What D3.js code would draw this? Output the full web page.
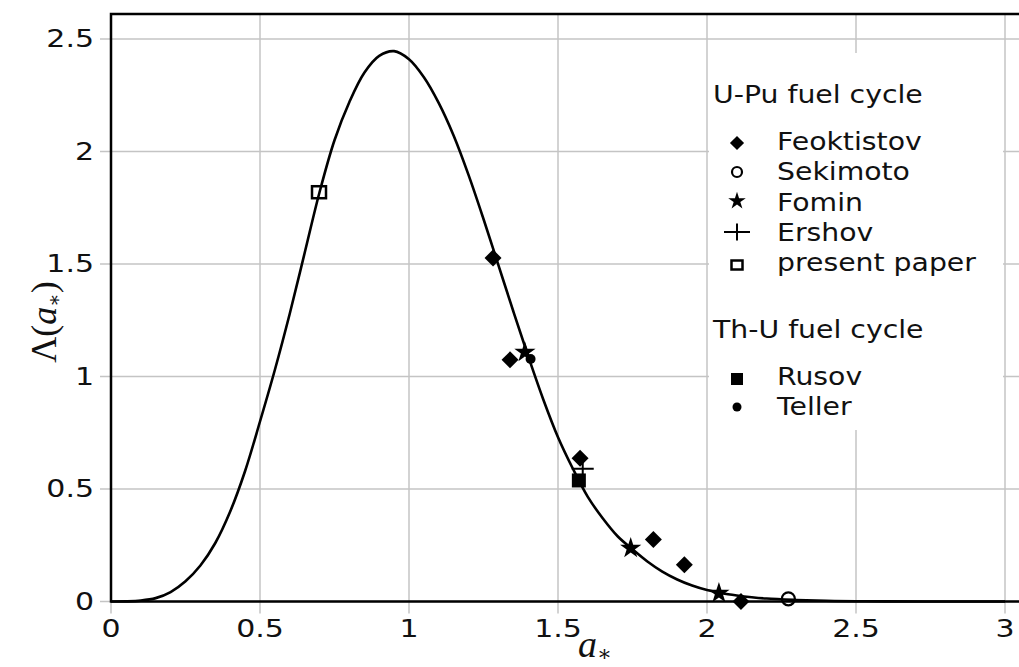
<!DOCTYPE html>
<html><head><meta charset="utf-8">
<script src="https://cdn.jsdelivr.net/npm/d3@7"></script>
<style>body{margin:0;background:#fff}</style></head>
<body><svg id="c" width="1019" height="667"></svg>
<script>
// ---------- data ----------
const xTicks = [0, 0.5, 1, 1.5, 2, 2.5, 3];
const xTickLabels = ["0", "0.5", "1", "1.5", "2", "2.5", "3"];
const yTicks = [0, 0.5, 1, 1.5, 2, 2.5];
const yTickLabels = ["0", "0.5", "1", "1.5", "2", "2.5"];

// theoretical curve, values
const curveA = [0, 0.05, 0.10, 0.15, 0.20, 0.25, 0.30, 0.35, 0.40, 0.45, 0.50, 0.55, 0.60, 0.65, 0.70, 0.75, 0.80, 0.85, 0.90, 0.95,
                1.00, 1.05, 1.10, 1.15, 1.20, 1.25, 1.30, 1.35, 1.40, 1.45, 1.50, 1.55, 1.60, 1.65, 1.70, 1.75, 1.80, 1.85, 1.90, 1.95,
                2.00, 2.05, 2.10, 2.15, 2.20, 2.30, 2.40, 2.50, 2.60, 2.80, 3.00];
const curveL = [0, 0.0005, 0.004, 0.015, 0.042, 0.09, 0.16, 0.26, 0.40, 0.58, 0.80, 1.03, 1.28, 1.55, 1.82, 2.05, 2.22, 2.35, 2.425, 2.446,
                2.41, 2.33, 2.215, 2.07, 1.895, 1.70, 1.495, 1.29, 1.09, 0.90, 0.73, 0.59, 0.465, 0.37, 0.29, 0.232, 0.178, 0.133, 0.098, 0.071,
                0.051, 0.037, 0.027, 0.019, 0.013, 0.007, 0.003, 0.0012, 0.0004, 0, 0];

const feoktistovA = [1.282, 1.339, 1.574, 1.82, 1.924, 2.114];
const feoktistovL = [1.527, 1.074, 0.637, 0.276, 0.163, 0.0];
const sekimotoA = [2.273];
const sekimotoL = [0.012];
const fominA = [1.389, 1.744, 2.040];
const fominL = [1.112, 0.241, 0.041];
const ershovA = [1.583];
const ershovL = [0.59];
const presentA = [0.698];
const presentL = [1.819];
const rusovA = [1.570];
const rusovL = [0.538];
const tellerA = [1.408];
const tellerL = [1.078];

const legendGroups = ["U-Pu fuel cycle", "Th-U fuel cycle"];
const legendItems1 = ["Feoktistov", "Sekimoto", "Fomin", "Ershov", "present paper"];
const legendItems2 = ["Rusov", "Teller"];

// ---------- drawing ----------
const svg = d3.select("#c");
const x = d3.scaleLinear().domain([0, 3]).range([111, 1005]);
const y = d3.scaleLinear().domain([0, 2.5]).range([601.5, 39]);
const topY = 14, rightX = 1019;
const FONT = "DejaVu Sans, Verdana, sans-serif";
const SERIF = "Liberation Serif, DejaVu Serif, serif";

// grid
svg.append("g").selectAll("line").data(xTicks).join("line")
  .attr("x1", d => x(d)).attr("x2", d => x(d))
  .attr("y1", topY).attr("y2", y(0) + 12)
  .attr("stroke", "#c4c4c4").attr("stroke-width", 1.5);
svg.append("g").selectAll("line").data(yTicks).join("line")
  .attr("y1", d => y(d)).attr("y2", d => y(d))
  .attr("x1", x(0) - 11).attr("x2", rightX)
  .attr("stroke", "#c4c4c4").attr("stroke-width", 1.5);

// tick labels
svg.append("g").selectAll("text").data(xTicks).join("text")
  .attr("transform", d => `translate(${x(d)},637) scale(1.25,1)`)
  .attr("text-anchor", "middle").attr("font-family", FONT).attr("font-size", 24)
  .attr("fill", "#111").text((d, i) => xTickLabels[i]);
svg.append("g").selectAll("text").data(yTicks).join("text")
  .attr("transform", d => `translate(94,${y(d) + 8}) scale(1.25,1)`)
  .attr("text-anchor", "end").attr("font-family", FONT).attr("font-size", 24)
  .attr("fill", "#111").text((d, i) => yTickLabels[i]);

// axis titles
const xt = svg.append("text").attr("x", 578).attr("y", 657)
  .attr("font-family", SERIF).attr("font-size", 38).attr("fill", "#111");
xt.append("tspan").attr("font-style", "italic").text("a");
xt.append("tspan").attr("font-size", 22).attr("dy", 4).text("∗");

const yt = svg.append("text").attr("transform", "translate(56,322) rotate(-90)")
  .attr("text-anchor", "middle").attr("font-family", SERIF).attr("font-size", 36).attr("fill", "#111");
yt.append("tspan").text("Λ(");
yt.append("tspan").attr("font-style", "italic").text("a");
yt.append("tspan").attr("font-size", 20).attr("dy", 5).text("∗");
yt.append("tspan").attr("dy", -5).text(")");

// curve
const pts = curveA.map((a, i) => [a, curveL[i]]);
svg.append("path").datum(pts)
  .attr("d", d3.line().x(d => x(d[0])).y(d => y(d[1])).curve(d3.curveCatmullRom.alpha(0.5)))
  .attr("fill", "none").attr("stroke", "#000").attr("stroke-width", 2.6);

// marker helpers
function diamond(g, cx, cy, s) {
  g.append("path").attr("d", d3.symbol(d3.symbolSquare, s * s)())
    .attr("transform", `translate(${cx},${cy}) rotate(45)`).attr("fill", "#000");
}
function star(g, cx, cy, size) {
  g.append("path").attr("d", d3.symbol(d3.symbolStar, size)())
    .attr("transform", `translate(${cx},${cy + 1})`).attr("fill", "#000");
}
function openCircle(g, cx, cy, r) {
  g.append("circle").attr("cx", cx).attr("cy", cy).attr("r", r)
    .attr("fill", "none").attr("stroke", "#000").attr("stroke-width", 2.2);
}
function plus(g, cx, cy, w, h) {
  g.append("path").attr("d", `M${cx - w / 2},${cy}H${cx + w / 2}M${cx},${cy - h / 2}V${cy + h / 2}`)
    .attr("stroke", "#000").attr("stroke-width", 2).attr("fill", "none");
}
function openSquare(g, cx, cy, w, h) {
  g.append("rect").attr("x", cx - w / 2).attr("y", cy - h / 2).attr("width", w).attr("height", h)
    .attr("fill", "none").attr("stroke", "#000").attr("stroke-width", 2.5);
}
function fillSquare(g, cx, cy, s) {
  g.append("rect").attr("x", cx - s / 2).attr("y", cy - s / 2).attr("width", s).attr("height", s).attr("fill", "#000");
}
function dot(g, cx, cy, r) {
  g.append("circle").attr("cx", cx).attr("cy", cy).attr("r", r).attr("fill", "#000");
}

const m = svg.append("g");
feoktistovA.forEach((a, i) => diamond(m, x(a), y(feoktistovL[i]), 12));
sekimotoA.forEach((a, i) => openCircle(m, x(a), y(sekimotoL[i]), 6.5));
fominA.forEach((a, i) => star(m, x(a), y(fominL[i]), 140));
ershovA.forEach((a, i) => plus(m, x(a), y(ershovL[i]), 22, 16));
presentA.forEach((a, i) => openSquare(m, x(a), y(presentL[i]), 14, 12));
rusovA.forEach((a, i) => fillSquare(m, x(a), y(rusovL[i]), 14));
tellerA.forEach((a, i) => dot(m, x(a), y(tellerL[i]), 5));

// legend
const lg = svg.append("g");
lg.append("rect").attr("x", 709).attr("y", 53).attr("width", 294).attr("height", 377).attr("fill", "#fff");
function ltext(t, tx, ty) {
  lg.append("text").attr("transform", `translate(${tx},${ty}) scale(1.18,1)`)
    .attr("font-family", FONT).attr("font-size", 24).attr("fill", "#111").text(t);
}
ltext(legendGroups[0], 713, 103);
ltext(legendGroups[1], 713, 338);
const sx = 737, tx = 777;
const rows1 = [150, 180, 211, 241, 271];
legendItems1.forEach((t, i) => ltext(t, tx, rows1[i]));
diamond(lg, sx, rows1[0] - 7, 10);
openCircle(lg, sx, rows1[1] - 8, 5);
star(lg, sx, rows1[2] - 11, 95);
plus(lg, sx, rows1[3] - 9, 26, 17);
openSquare(lg, sx, rows1[4] - 6, 11, 9);
const rows2 = [385, 415];
legendItems2.forEach((t, i) => ltext(t, tx, rows2[i]));
fillSquare(lg, sx, rows2[0] - 6, 12);
dot(lg, sx, rows2[1] - 8, 4.5);

// frame
svg.append("path")
  .attr("d", `M${rightX},${topY}H${x(0)}V${y(0)}H${rightX}`)
  .attr("fill", "none").attr("stroke", "#000").attr("stroke-width", 2.5);
</script>
</body></html>
